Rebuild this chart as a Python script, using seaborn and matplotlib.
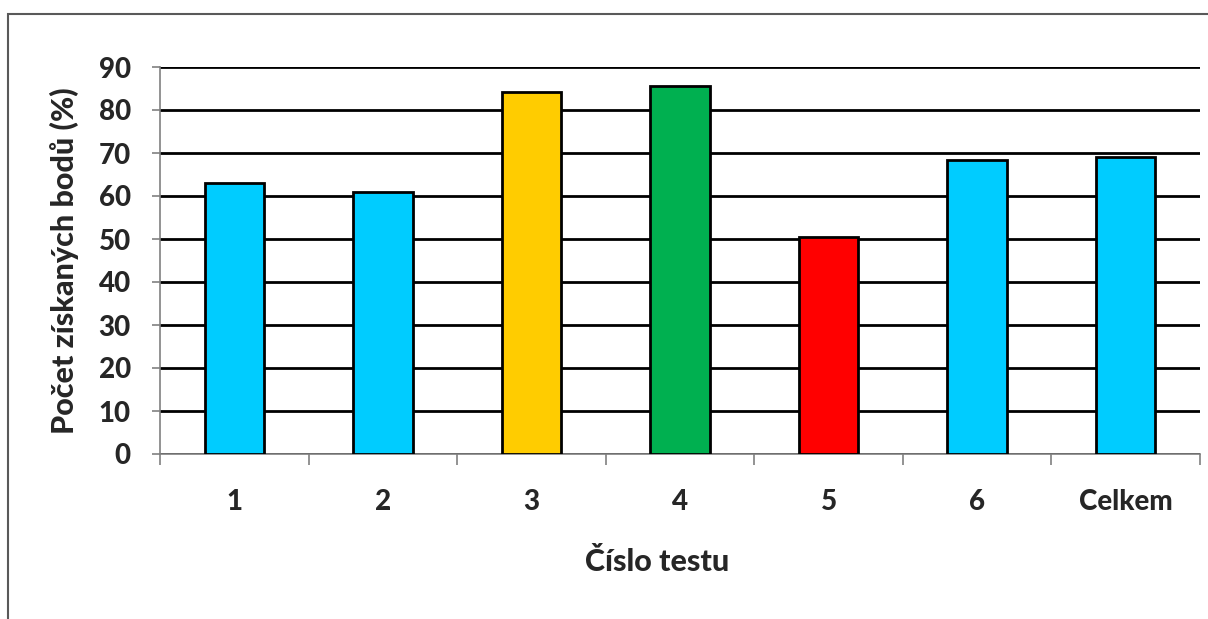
import matplotlib
matplotlib.use("Agg")
import matplotlib.pyplot as plt
from matplotlib.patches import Rectangle
import seaborn as sns
import pandas as pd

# Test results (percentage of points obtained)
tests = ["1", "2", "3", "4", "5", "6", "Celkem"]
percent = [63.0, 60.9, 84.3, 85.6, 50.5, 68.3, 69.0]
bar_colors = ["#00CCFF", "#00CCFF", "#FFCC00", "#00B050", "#FF0000", "#00CCFF", "#00CCFF"]
y_ticks = [0, 10, 20, 30, 40, 50, 60, 70, 80, 90]

df = pd.DataFrame({"test": tests, "percent": percent})

sns.set_theme(style="white")
plt.rcParams["font.family"] = ["Lato", "DejaVu Sans"]
WEIGHT = "black"
plt.rcParams["font.weight"] = WEIGHT

fig = plt.figure(figsize=(12.08, 6.19), dpi=100)
ax = fig.add_axes([160 / 1208, 1 - 454 / 619, 1040 / 1208, 387 / 619])

# outer chart frame
fig.patches.append(Rectangle((8 / 1208, -0.1), 1.2, 1 - 14 / 619 + 0.1,
                             transform=fig.transFigure, fill=False,
                             edgecolor="#595959", linewidth=1.5, zorder=0))

sns.barplot(data=df, x="test", y="percent", hue="test", palette=bar_colors,
            saturation=1, width=0.4, edgecolor="black", linewidth=2,
            legend=False, ax=ax, zorder=3)

ax.set_ylim(0, 90)
ax.set_xlim(-0.5, len(tests) - 0.5)
ax.set_yticks(y_ticks)
ax.yaxis.grid(True, color="black", linewidth=2)
ax.set_axisbelow(True)

for side in ["top", "right"]:
    ax.spines[side].set_visible(False)
for side in ["left", "bottom"]:
    ax.spines[side].set_color("#808080")
    ax.spines[side].set_linewidth(1.2)

ax.tick_params(axis="y", which="major", left=True, length=6, width=1.2,
               color="#808080", pad=15, labelsize=20)
ax.set_xticks(range(len(tests)), tests)
ax.set_xticks([i - 0.5 for i in range(len(tests) + 1)], minor=True)
ax.tick_params(axis="x", which="major", bottom=False, length=0, pad=25, labelsize=20)
ax.tick_params(axis="x", which="minor", bottom=True, length=8, width=1.2, color="#808080")

for lbl in ax.get_xticklabels() + ax.get_yticklabels():
    lbl.set_fontweight(WEIGHT)

ax.set_xlabel("Číslo testu", fontsize=22, fontweight=WEIGHT, labelpad=24)
ax.xaxis.label.set_x(0.478)
ax.set_ylabel("Počet získaných bodů (%)", fontsize=22, fontweight=WEIGHT, labelpad=14)

fig.savefig("out.png", dpi=100, facecolor="white")
